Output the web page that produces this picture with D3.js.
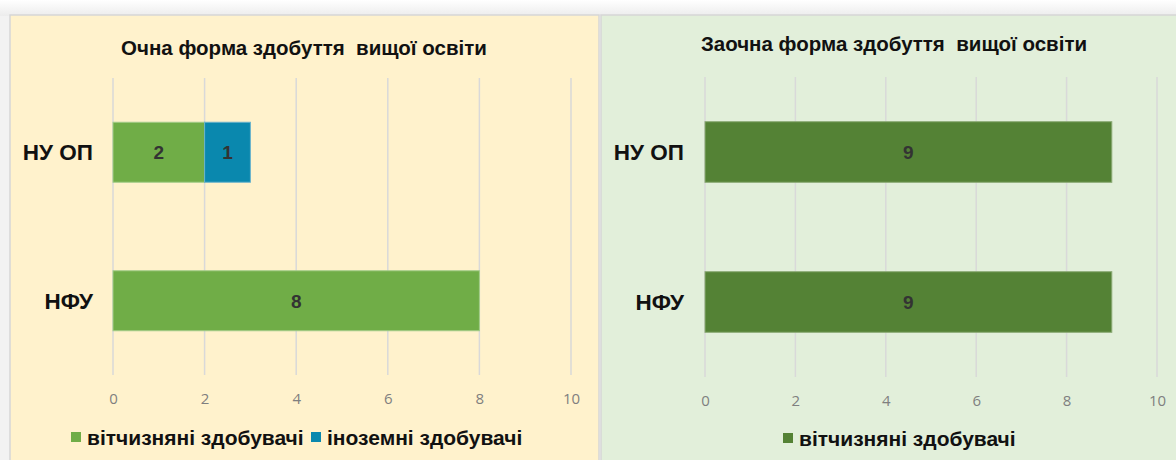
<!DOCTYPE html>
<html>
<head>
<meta charset="utf-8">
<script src="https://cdn.jsdelivr.net/npm/d3@7"></script>
<style>
  html, body { margin: 0; padding: 0; background: #f4f4f4; }
  svg { display: block; font-family: "Liberation Sans", Arial, sans-serif; }
</style>
</head>
<body>
<svg id="chart" width="1176" height="460"></svg>
<script>
// data
let categories = ["НУ ОП", "НФУ"];
let fullTimeLocal = [2, 8];
let fullTimeForeign = [1, 0];
let partTimeLocal = [9, 9];
let xTicks = [0, 2, 4, 6, 8, 10];
let titles = ["Очна форма здобуття  вищої освіти", "Заочна форма здобуття  вищої освіти"];
let seriesNames = ["вітчизняні здобувачі", "іноземні здобувачі"];

let svg = d3.select("#chart");

// page backdrop
let defs = svg.append("defs");
let grad = defs.append("linearGradient").attr("id", "bg").attr("x1", 0).attr("y1", 0).attr("x2", 0).attr("y2", 1);
grad.append("stop").attr("offset", "0%").attr("stop-color", "#ffffff");
grad.append("stop").attr("offset", "100%").attr("stop-color", "#ececec");
svg.append("rect").attr("width", 1176).attr("height", 16).attr("fill", "url(#bg)");
svg.append("rect").attr("y", 16).attr("width", 10).attr("height", 444).attr("fill", "#f2f2f2");

function panel(opts) {
  let g = svg.append("g");
  g.append("rect")
    .attr("x", opts.x).attr("y", 15).attr("width", opts.w).attr("height", 460)
    .attr("fill", opts.bg).attr("stroke", "#d6d6d6").attr("stroke-width", 1.5);

  g.append("text").text(opts.title)
    .attr("x", opts.titleX).attr("y", opts.titleY)
    .style("white-space", "pre")
    .attr("text-anchor", "middle").attr("font-size", 20.5).attr("font-weight", "bold").attr("fill", "#111");

  let x = d3.scaleLinear().domain([0, 10]).range([opts.x0, opts.x1]);
  let y = d3.scaleBand().domain(categories).range([opts.yTop, opts.yBot]).padding(0);
  let barH = y.bandwidth() * 0.404;

  // gridlines
  g.append("g").selectAll("line").data(xTicks).join("line")
    .attr("x1", d => x(d)).attr("x2", d => x(d))
    .attr("y1", opts.yTop).attr("y2", opts.yBot)
    .attr("stroke", "#d9d9d9").attr("stroke-width", 1.5);

  // tick labels
  let axis = d3.axisBottom(x).tickValues(xTicks).tickSize(0).tickPadding(0);
  let ag = g.append("g").attr("transform", `translate(0,${opts.yBot + 29})`).call(axis);
  ag.select(".domain").remove();
  ag.selectAll("text").attr("font-size", 15).attr("fill", "#7f7f7f")
    .attr("font-family", "'Open Sans', sans-serif").attr("dy", 0);

  // category labels
  g.append("g").selectAll("text").data(categories).join("text")
    .text(d => d)
    .attr("x", opts.catX).attr("y", d => y(d) + y.bandwidth() / 2 + 8)
    .attr("text-anchor", "end").attr("font-size", 22.5).attr("font-weight", "bold").attr("fill", "#111");

  // stacked bars
  opts.series.forEach((s, si) => {
    let bars = g.append("g");
    categories.forEach((c, i) => {
      let start = 0;
      for (let k = 0; k < si; k++) start += opts.series[k].values[i];
      let v = s.values[i];
      if (!v) return;
      let yc = y(c) + y.bandwidth() / 2;
      bars.append("rect")
        .attr("x", x(start)).attr("y", yc - barH / 2)
        .attr("width", x(start + v) - x(start)).attr("height", barH)
        .attr("fill", s.color).attr("stroke", s.edge).attr("stroke-width", 1);
      bars.append("text").text(v)
        .attr("x", (x(start) + x(start + v)) / 2).attr("y", yc + 7)
        .attr("text-anchor", "middle").attr("font-size", 19).attr("font-weight", "bold").attr("fill", "#333");
    });
  });

  // legend
  let lg = g.append("g");
  opts.legend.forEach(l => {
    lg.append("rect").attr("x", l.x).attr("y", opts.legY - 6).attr("width", 10).attr("height", 10).attr("fill", l.color);
    lg.append("text").text(l.name).attr("x", l.x + 16).attr("y", opts.legY + 7)
      .attr("font-size", 21).attr("font-weight", "bold").attr("fill", "#111");
  });
}

panel({
  x: 10, w: 589, bg: "#fff2cc",
  title: titles[0], titleX: 304, titleY: 55,
  x0: 113, x1: 571, yTop: 78, yBot: 375, catX: 93,
  series: [
    {values: fullTimeLocal, color: "#70ad47", edge: "#a3cc88"},
    {values: fullTimeForeign, color: "#0a88ae", edge: "#6ab3cc"}
  ],
  legend: [
    {name: seriesNames[0], color: "#70ad47", x: 71},
    {name: seriesNames[1], color: "#0a88ae", x: 311}
  ],
  legY: 438
});

panel({
  x: 601, w: 590, bg: "#e2efda",
  title: titles[1], titleX: 894, titleY: 51,
  x0: 705, x1: 1157, yTop: 77, yBot: 377, catX: 684,
  series: [
    {values: partTimeLocal, color: "#548235", edge: "#8aaa74"}
  ],
  legend: [
    {name: seriesNames[0], color: "#548235", x: 783}
  ],
  legY: 439
});
</script>
</body>
</html>
